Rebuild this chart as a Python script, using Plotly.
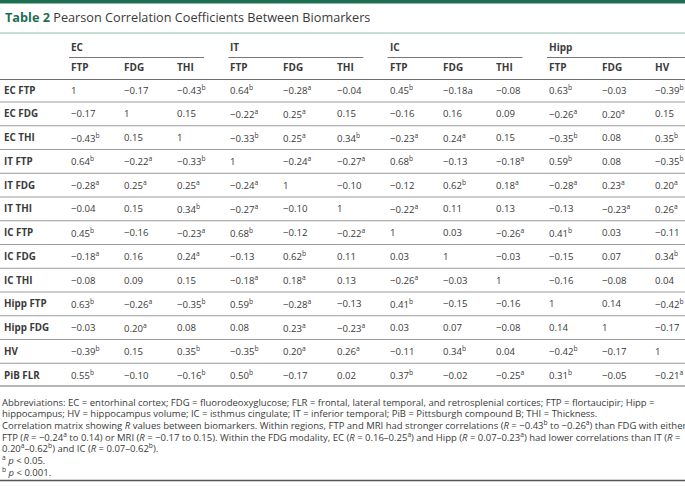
import plotly.graph_objects as go

title_bold = "Table 2"
title_rest = "Pearson Correlation Coefficients Between Biomarkers"

groups = ["EC", "IT", "IC", "Hipp"]
sub_cols = [["FTP", "FDG", "THI"], ["FTP", "FDG", "THI"], ["FTP", "FDG", "THI"], ["FTP", "FDG", "HV"]]

row_labels = ["EC FTP", "EC FDG", "EC THI", "IT FTP", "IT FDG", "IT THI", "IC FTP",
              "IC FDG", "IC THI", "Hipp FTP", "Hipp FDG", "HV", "PiB FLR"]

# cell text: value|superscript
cells = [
    ["1", "−0.17", "−0.43|b", "0.64|b", "−0.28|a", "−0.04", "0.45|b", "−0.18a", "−0.08", "0.63|b", "−0.03", "−0.39|b"],
    ["−0.17", "1", "0.15", "−0.22|a", "0.25|a", "0.15", "−0.16", "0.16", "0.09", "−0.26|a", "0.20|a", "0.15"],
    ["−0.43|b", "0.15", "1", "−0.33|b", "0.25|a", "0.34|b", "−0.23|a", "0.24|a", "0.15", "−0.35|b", "0.08", "0.35|b"],
    ["0.64|b", "−0.22|a", "−0.33|b", "1", "−0.24|a", "−0.27|a", "0.68|b", "−0.13", "−0.18|a", "0.59|b", "0.08", "−0.35|b"],
    ["−0.28|a", "0.25|a", "0.25|a", "−0.24|a", "1", "−0.10", "−0.12", "0.62|b", "0.18|a", "−0.28|a", "0.23|a", "0.20|a"],
    ["−0.04", "0.15", "0.34|b", "−0.27|a", "−0.10", "1", "−0.22|a", "0.11", "0.13", "−0.13", "−0.23|a", "0.26|a"],
    ["0.45|b", "−0.16", "−0.23|a", "0.68|b", "−0.12", "−0.22|a", "1", "0.03", "−0.26|a", "0.41|b", "0.03", "−0.11"],
    ["−0.18|a", "0.16", "0.24|a", "−0.13", "0.62|b", "0.11", "0.03", "1", "−0.03", "−0.15", "0.07", "0.34|b"],
    ["−0.08", "0.09", "0.15", "−0.18|a", "0.18|a", "0.13", "−0.26|a", "−0.03", "1", "−0.16", "−0.08", "0.04"],
    ["0.63|b", "−0.26|a", "−0.35|b", "0.59|b", "−0.28|a", "−0.13", "0.41|b", "−0.15", "−0.16", "1", "0.14", "−0.42|b"],
    ["−0.03", "0.20|a", "0.08", "0.08", "0.23|a", "−0.23|a", "0.03", "0.07", "−0.08", "0.14", "1", "−0.17"],
    ["−0.39|b", "0.15", "0.35|b", "−0.35|b", "0.20|a", "0.26|a", "−0.11", "0.34|b", "0.04", "−0.42|b", "−0.17", "1"],
    ["0.55|b", "−0.10", "−0.16|b", "0.50|b", "−0.17", "0.02", "0.37|b", "−0.02", "−0.25|a", "0.31|b", "−0.05", "−0.21|a"],
]

footnotes = [
    "Abbreviations: EC = entorhinal cortex; FDG = fluorodeoxyglucose; FLR = frontal, lateral temporal, and retrosplenial cortices; FTP = flortaucipir; Hipp =",
    "hippocampus; HV = hippocampus volume; IC = isthmus cingulate; IT = inferior temporal; PiB = Pittsburgh compound B; THI = Thickness.",
    "Correlation matrix showing <i>R</i> values between biomarkers. Within regions, FTP and MRI had stronger correlations (<i>R</i> = −0.43<sup>b</sup> to −0.26<sup>a</sup>) than FDG with either",
    "FTP (<i>R</i> = −0.24<sup>a</sup> to 0.14) or MRI (<i>R</i> = −0.17 to 0.15). Within the FDG modality, EC (<i>R</i> = 0.16–0.25<sup>a</sup>) and Hipp (<i>R</i> = 0.07–0.23<sup>a</sup>) had lower correlations than IT (<i>R</i> =",
    "0.20<sup>a</sup>–0.62<sup>b</sup>) and IC (<i>R</i> = 0.07–0.62<sup>b</sup>).",
    "<sup>a</sup> <i>p</i> < 0.05.",
    "<sup>b</sup> <i>p</i> < 0.001.",
]

W, H = 685, 487
TXT = "#3a3a3a"
GREEN = "#1e6e52"
BODY_FONT = "Open Sans"
NARROW = "Liberation Sans Narrow, Open Sans"

col_x0, col_dx = 69, 53.1
row_y0, row_dy = 90, 23.75
label_x = 2

fig = go.Figure()
shapes = []
ann = []

def text(x, y, s, size=10, color=TXT, family=BODY_FONT, anchor="left"):
    ann.append(dict(x=x, y=y, xref="x", yref="y", text=s, showarrow=False,
                    xanchor=anchor, yanchor="middle",
                    font=dict(size=size, color=color, family=family)))

def hline(x0, x1, y, color="#9a9a9a", width=1):
    shapes.append(dict(type="line", xref="x", yref="y", x0=x0, x1=x1, y0=y, y1=y,
                       line=dict(color=color, width=width)))

# top green bar
shapes.append(dict(type="rect", xref="x", yref="y", x0=0, x1=W, y0=0, y1=3.5,
                   fillcolor=GREEN, line=dict(width=0)))
# title
text(3, 17, f"<b><span style='color:{GREEN}'>{title_bold}</span></b> {title_rest}",
     size=12.7, family=NARROW)
hline(0, W, 33, color="#8fbfa8", width=1)

# group headers
n_sub = 3
for g, name in enumerate(groups):
    gx = col_x0 + col_dx * n_sub * g
    text(gx, 47, f"<b>{name}</b>", size=10, family=NARROW)
    x_end = W if g == len(groups) - 1 else gx + 135
    hline(gx, x_end, 57.5, color="#777777", width=1)
    for s, sc in enumerate(sub_cols[g]):
        text(gx + col_dx * s, 67, f"<b>{sc}</b>", size=10, family=NARROW)

hline(0, W, 79.5, color="#6f6f6f", width=1)

# body
for i, lab in enumerate(row_labels):
    y = row_y0 + row_dy * i
    text(label_x, y, f"<b>{lab}</b>", size=9.8)
    for j, c in enumerate(cells[i]):
        if "|" in c:
            v, sup = c.split("|")
            s = f"{v}<sup>{sup}</sup>"
        else:
            s = c
        text(col_x0 + col_dx * j, y, s, size=9.6)
    if i < len(row_labels) - 1:
        hline(0, W, y + 12, color="#9a9a9a", width=1)
    else:
        hline(0, W, y + 11, color="#6f6f6f", width=1.2)

# footnotes
for k, fn in enumerate(footnotes):
    text(0, 402 + 11.6 * k, fn, size=9.5, family=NARROW)

hline(0, W, 480.5, color="#555555", width=1.5)

fig.update_layout(
    width=W, height=H,
    margin=dict(l=0, r=0, t=0, b=0),
    paper_bgcolor="white", plot_bgcolor="white",
    xaxis=dict(range=[0, W], visible=False, fixedrange=True),
    yaxis=dict(range=[H, 0], visible=False, fixedrange=True),
    shapes=shapes, annotations=ann, showlegend=False,
)
fig.write_html("out.html", config={"displayModeBar": False},
               post_script="document.body.style.margin='0';document.body.style.overflow='hidden';")
